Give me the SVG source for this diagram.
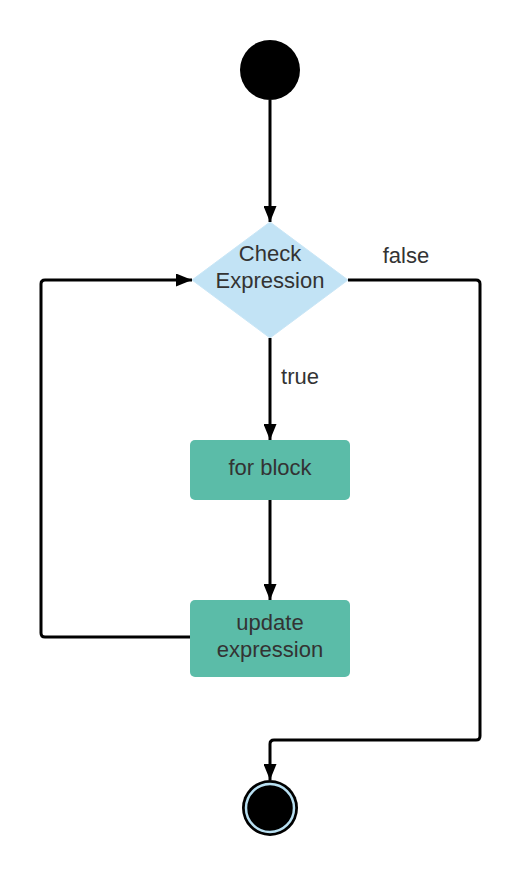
<svg xmlns="http://www.w3.org/2000/svg" width="520" height="880" viewBox="0 0 520 880">
<style>
.edge{fill:none;stroke:#000;stroke-width:3;stroke-linejoin:round}
.lbl{font-family:"Liberation Sans",Arial,sans-serif;font-size:22px;fill:#333;text-anchor:middle}
.act{fill:#5bbca8}
</style>
<defs>
<marker id="ah" viewBox="0 0 16 13" refX="16" refY="6.5" markerWidth="16" markerHeight="13" markerUnits="userSpaceOnUse" orient="auto">
<path d="M0,0 L16,6.5 L0,13 Z" fill="#000"/>
</marker>
</defs>
<g id="start"><circle cx="270" cy="70" r="30" fill="#000"/></g>
<g id="check">
<path d="M270,222 L348,280 L270,338 L192,280 Z" fill="#c2e3f5" stroke="#c9e6f6" stroke-width="1" stroke-linejoin="round"/>
<text class="lbl" x="270" y="261">Check</text>
<text class="lbl" x="270" y="288">Expression</text>
</g>
<g id="forblock">
<rect class="act" x="190" y="440" width="160" height="60" rx="5"/>
<text class="lbl" x="270" y="475">for block</text>
</g>
<g id="update">
<rect class="act" x="190" y="600" width="160" height="77" rx="5"/>
<text class="lbl" x="270" y="630">update</text>
<text class="lbl" x="270" y="657">expression</text>
</g>
<g id="end">
<circle cx="270" cy="808" r="28" fill="#000"/>
<circle cx="270" cy="808" r="24" fill="none" stroke="#b9e0f2" stroke-width="2.5"/>
</g>
<g id="connectors">
<path class="edge" d="M270,100 L270,222" marker-end="url(#ah)"/>
<path class="edge" d="M270,338 L270,440" marker-end="url(#ah)"/>
<path class="edge" d="M270,500 L270,600" marker-end="url(#ah)"/>
<path class="edge" d="M190,637 L45,637 Q41,637 41,633 L41,284 Q41,280 45,280 L192,280" marker-end="url(#ah)"/>
<path class="edge" d="M348,280 L476,280 Q480,280 480,284 L480,736 Q480,740 476,740 L274,740 Q270,740 270,744 L270,780" marker-end="url(#ah)"/>
<text class="lbl" x="300" y="384">true</text>
<text class="lbl" x="406" y="263">false</text>
</g>
</svg>
